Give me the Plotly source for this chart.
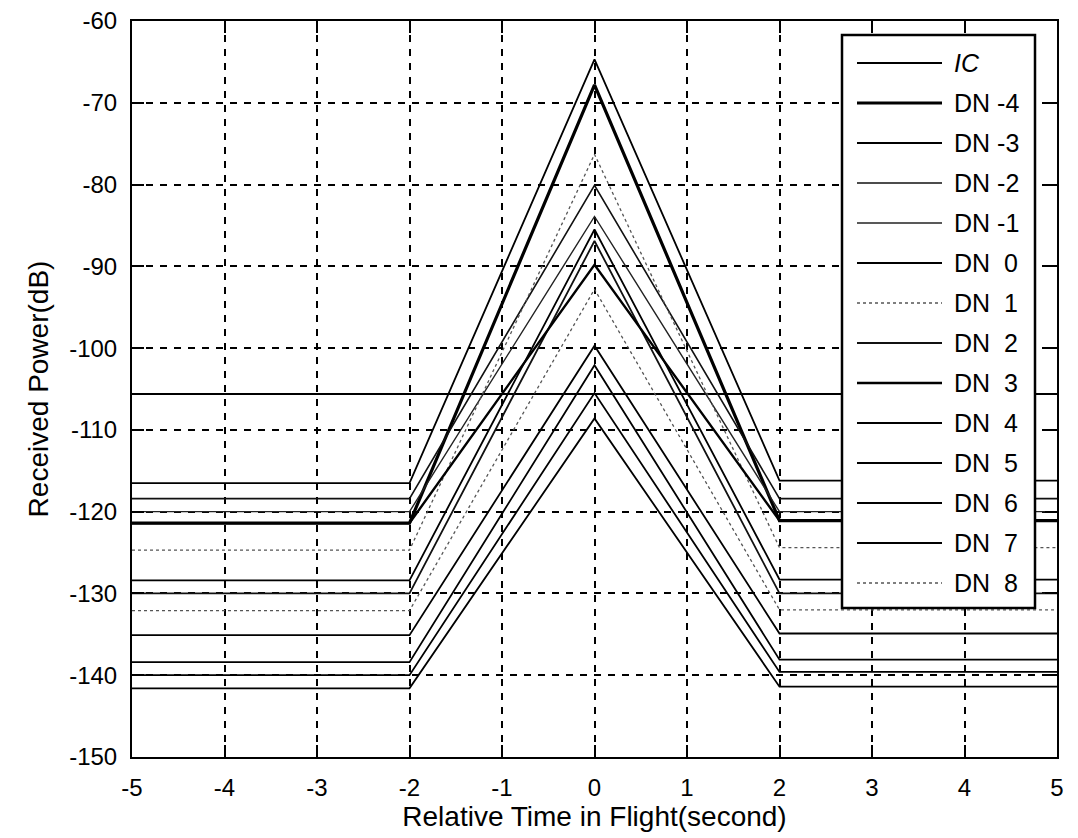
import plotly.graph_objects as go

# ---------------- data ----------------
time_points = [-5, -2, 0, 2, 5]

series_names = ["DN -4", "DN -3", "DN -2", "DN -1", "DN  0", "DN  1", "DN  2",
                "DN  3", "DN  4", "DN  5", "DN  6", "DN  7", "DN  8"]
left_level  = [-121.4, -116.5, -118.4, -120.0, -128.4, -124.7, -130.0,
               -121.4, -135.1, -138.4, -140.0, -141.6, -132.1]
peak_level  = [-67.8, -64.7, -80.1, -83.9, -85.5, -76.3, -86.9,
               -89.8, -99.7, -102.1, -105.5, -108.6, -92.8]
right_level = [-121.1, -116.2, -118.4, -120.0, -128.3, -124.4, -130.0,
               -121.1, -134.9, -138.1, -139.6, -141.4, -132.0]

ic_name = "IC"
ic_time = [-5, 5]
ic_level = [-105.6, -105.6]

x_ticks = [-5, -4, -3, -2, -1, 0, 1, 2, 3, 4, 5]
x_tick_text = ["-5", "-4", "-3", "-2", "-1", "0", "1", "2", "3", "4", "5"]
y_ticks = [-60, -70, -80, -90, -100, -110, -120, -130, -140, -150]
y_tick_text = ["-60", "-70", "-80", "-90", "-100", "-110", "-120", "-130", "-140", "-150"]

# ---------------- styles ----------------
widths = [3.2, 1.8, 1.6, 1.4, 1.8, 1.3, 1.8, 2.4, 1.8, 1.8, 1.8, 1.8, 1.3]
dashes = ["solid", "solid", "solid", "solid", "solid", "dot", "solid",
          "solid", "solid", "solid", "solid", "solid", "dot"]
colors = ["#000000", "#000000", "#111111", "#222222", "#000000", "#555555", "#111111",
          "#000000", "#000000", "#000000", "#000000", "#000000", "#555555"]

FONT = "Liberation Sans, Arial, sans-serif"

W, H = 1078, 838
ML, MR, MT, MB = 132, 21, 21, 81
PW, PH = W - ML - MR, H - MT - MB


def px_x(p):
    return (p - ML) / PW


def px_y(p):
    return 1 - (p - MT) / PH


fig = go.Figure()
fig.add_trace(go.Scatter(x=ic_time, y=ic_level, mode="lines", name=ic_name,
                         line=dict(color="#000000", width=2), showlegend=False))
for i, nm in enumerate(series_names):
    y = [left_level[i], left_level[i], peak_level[i], right_level[i], right_level[i]]
    fig.add_trace(go.Scatter(x=time_points, y=y, mode="lines", name=nm,
                             line=dict(color=colors[i], width=widths[i], dash=dashes[i]),
                             showlegend=False))

# ---------------- legend box (drawn on top of the data) ----------------
shapes = [dict(type="rect", xref="paper", yref="paper",
               x0=px_x(842), x1=px_x(1035), y0=px_y(608), y1=px_y(35),
               line=dict(color="black", width=2.5), fillcolor="white", layer="above")]
annotations = []
leg_names = [ic_name] + series_names
leg_widths = [2] + widths
leg_dashes = ["solid"] + dashes
leg_colors = ["#000000"] + colors
for k, nm in enumerate(leg_names):
    yc = 63 + 40 * k
    shapes.append(dict(type="line", xref="paper", yref="paper",
                       x0=px_x(857), x1=px_x(942), y0=px_y(yc), y1=px_y(yc),
                       line=dict(color=leg_colors[k], width=leg_widths[k], dash=leg_dashes[k]),
                       layer="above"))
    txt = "<i>IC</i>" if nm == ic_name else nm.replace(" ", "&nbsp;")
    annotations.append(dict(xref="paper", yref="paper", x=px_x(952), y=px_y(yc),
                            xanchor="left", yanchor="middle", text=txt, showarrow=False,
                            font=dict(family=FONT, size=25, color="black")))

axis_common = dict(
    showline=True, linecolor="black", linewidth=2, mirror="ticks",
    ticks="inside", ticklen=12, tickwidth=2, tickcolor="black",
    showgrid=True, gridcolor="black", gridwidth=2, griddash="7px,7px",
    zeroline=False, tickfont=dict(family=FONT, size=24, color="black"),
    ticklabelstandoff=8, automargin=False,
)

fig.update_layout(
    width=W, height=H,
    margin=dict(l=ML, r=MR, t=MT, b=MB, autoexpand=False),
    paper_bgcolor="white", plot_bgcolor="white",
    font=dict(family=FONT, color="black"),
    showlegend=False,
    shapes=shapes, annotations=annotations,
    xaxis=dict(axis_common, range=[-5, 5], tickvals=x_ticks, ticktext=x_tick_text,
               title=dict(text="Relative Time in Flight(second)", standoff=6,
                          font=dict(family=FONT, size=28, color="black"))),
    yaxis=dict(axis_common, range=[-150, -60], tickvals=y_ticks, ticktext=y_tick_text,
               title=dict(text="Received Power(dB)", standoff=12,
                          font=dict(family=FONT, size=28, color="black"))),
)

fig.write_html("out.html")
